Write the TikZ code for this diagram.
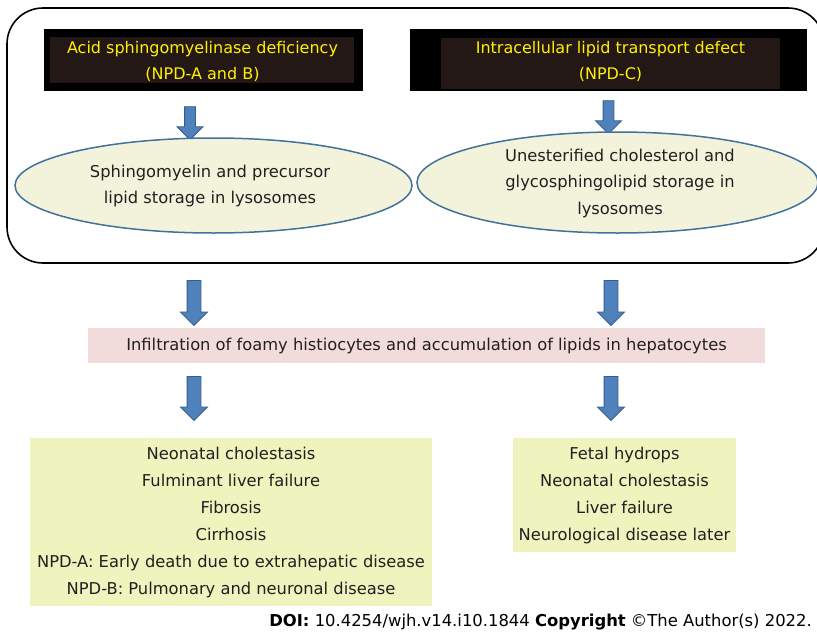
\documentclass[tikz,border=0pt]{standalone}
\usepackage{fontspec}
\setmainfont{DejaVu Sans}
\usetikzlibrary{shapes.geometric,shapes.arrows}
\definecolor{ylw}{HTML}{FFF200}
\definecolor{brn}{HTML}{231815}
\definecolor{ellf}{HTML}{F3F3DC}
\definecolor{ellb}{HTML}{41719C}
\definecolor{arrf}{HTML}{4F81BD}
\definecolor{arrb}{HTML}{385D8A}
\definecolor{pinkf}{HTML}{F2DCDB}
\definecolor{grnf}{HTML}{EFF3BE}
\definecolor{txt}{HTML}{231F20}
\tikzset{
  blk/.style={rectangle, fill=black, inner sep=0pt},
  inbox/.style={rectangle, fill=brn, inner sep=0pt},
  ytxt/.style={text=ylw, align=center, inner sep=0pt, font=\fontsize{16}{26}\selectfont},
  ell/.style={ellipse, draw=ellb, line width=1.5pt, fill=ellf, inner sep=0pt},
  dtxt/.style={text=txt, align=center, inner sep=0pt, font=\fontsize{16.3}{26.5}\selectfont},
  barrow/.style={single arrow, draw=arrb, fill=arrf, line width=0.8pt, rotate=-90,
    inner xsep=0pt, single arrow tip angle=90, single arrow head indent=0pt},
  smallarrow/.style={barrow, inner ysep=5pt, single arrow head extend=7.5pt},
  bigarrow/.style={barrow, inner ysep=6.5pt, single arrow head extend=6.5pt},
  flatbox/.style={rectangle, inner sep=0pt, text=txt, align=center, font=\fontsize{16.3}{27}\selectfont},
}
\begin{document}
\begin{tikzpicture}[x=1pt,y=-1pt]
\useasboundingbox (0,0) rectangle (817,635);
\fill[white] (0,0) rectangle (817,635);
% outer container
\draw[line width=1.6pt, rounded corners=36pt] (7,8) rectangle (824,263);
% top boxes
\node[blk, minimum width=319pt, minimum height=62pt] (b1) at (203.5,60) {};
\node[inbox, minimum width=304pt, minimum height=46pt] (i1) at (202,60) {};
\node[ytxt] (t1) at (202.5,61) {Acid sphingomyelinase deficiency\\(NPD-A and B)};
\node[blk, minimum width=397pt, minimum height=62pt] (b2) at (608.5,60) {};
\node[inbox, minimum width=339pt, minimum height=51pt] (i2) at (610.5,63.5) {};
\node[ytxt] (t2) at (610.5,61) {Intracellular lipid transport defect\\(NPD-C)};
% small arrows
\node[smallarrow, minimum height=33pt] (a1) at (190,120.5) {};
\node[smallarrow, minimum height=33pt] (a2) at (608.5,114.5) {};
% ellipses
\node[ell, minimum width=397pt, minimum height=95pt] (e1) at (213.5,185.5) {};
\node[dtxt] (et1) at (210,186) {Sphingomyelin and precursor\\lipid storage in lysosomes};
\node[ell, minimum width=401pt, minimum height=101pt] (e2) at (617.5,182.5) {};
\node[dtxt] (et2) at (620,183) {Unesterified cholesterol and\\glycosphingolipid storage in\\lysosomes};
% middle arrows
\node[bigarrow, minimum height=45pt] (a3) at (194,299.5) {};
\node[bigarrow, minimum height=45pt] (a4) at (611,299.5) {};
% pink box
\node[flatbox, fill=pinkf, minimum width=677pt, minimum height=35pt] (pk) at (426.5,345.5)
  {Infiltration of foamy histiocytes and accumulation of lipids in hepatocytes};
% lower arrows
\node[bigarrow, minimum height=44pt] (a5) at (194,395) {};
\node[bigarrow, minimum height=44pt] (a6) at (611,395) {};
% bottom boxes
\node[flatbox, fill=grnf, minimum width=402pt, minimum height=168pt] (g1) at (231,522)
  {Neonatal cholestasis\\Fulminant liver failure\\Fibrosis\\Cirrhosis\\NPD-A: Early death due to extrahepatic disease\\NPD-B: Pulmonary and neuronal disease};
\node[flatbox, fill=grnf, minimum width=223pt, minimum height=114pt] (g2) at (624.5,495)
  {Fetal hydrops\\Neonatal cholestasis\\Liver failure\\Neurological disease later};
% DOI
\node[anchor=east, inner sep=0pt, font=\fontsize{16.4}{18}\selectfont] (doi) at (812,622)
  {\textbf{DOI:} 10.4254/wjh.v14.i10.1844 \textbf{Copyright} ©The Author(s) 2022.};
\end{tikzpicture}
\end{document}
